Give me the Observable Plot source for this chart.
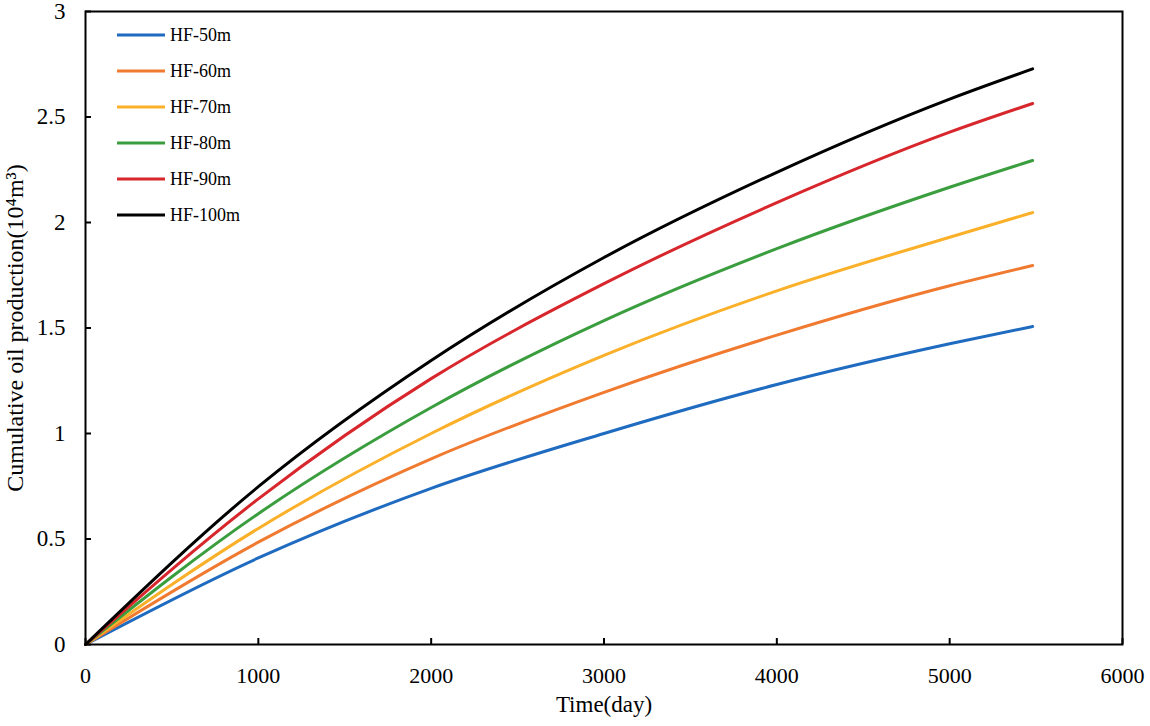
<!DOCTYPE html>
<html>
<head>
<meta charset="utf-8">
<script src="https://cdn.jsdelivr.net/npm/d3@7"></script>
<script src="https://cdn.jsdelivr.net/npm/@observablehq/plot@0.6"></script>
<style>
  html, body { margin: 0; padding: 0; background: #fff; }
  #chart svg { display: block; }
</style>
</head>
<body>
<div id="chart"></div>
<script>
const days = [0, 1000, 2000, 3000, 4000, 5000, 5480];
const hf50  = [0, 0.41, 0.74, 1.0, 1.232, 1.425, 1.507];
const hf60  = [0, 0.485, 0.88, 1.195, 1.466, 1.70, 1.796];
const hf70  = [0, 0.55, 1.0, 1.37, 1.676, 1.93, 2.047];
const hf80  = [0, 0.62, 1.123, 1.535, 1.876, 2.167, 2.294];
const hf90  = [0, 0.69, 1.26, 1.71, 2.094, 2.428, 2.564];
const hf100 = [0, 0.748, 1.346, 1.834, 2.238, 2.585, 2.728];

const seriesNames = ["HF-50m", "HF-60m", "HF-70m", "HF-80m", "HF-90m", "HF-100m"];
const seriesValues = [hf50, hf60, hf70, hf80, hf90, hf100];
const colors = ["#1f6bc0", "#f07a30", "#fbb02a", "#3a9e3e", "#d7262c", "#000000"];

const xTicks = [0, 1000, 2000, 3000, 4000, 5000, 6000];
const yTicks = [0, 0.5, 1, 1.5, 2, 2.5, 3];
const yTickLabels = ["0", "0.5", "1", "1.5", "2", "2.5", "3"];
const xTitle = "Time(day)";
const yTitle = "Cumulative oil production(10\u2074m\u00b3)";

const rows = [];
seriesNames.forEach((name, i) => {
  days.forEach((d, j) => rows.push({series: name, day: d, value: seriesValues[i][j]}));
});

const W = 1150, H = 726, mL = 85, mR = 28, mT = 11, mB = 82;
const tickPx = 6;
const tickLenY = tickPx * 3 / (H - mT - mB);      // in y data units
const tickLenX = tickPx * 6000 / (W - mL - mR);    // in x data units

const font = "'Liberation Serif', 'Times New Roman', serif";

const chart = Plot.plot({
  width: W,
  height: H,
  marginLeft: mL,
  marginRight: mR,
  marginTop: mT,
  marginBottom: mB,
  style: {fontFamily: font, background: "#fff", color: "#000"},
  x: {domain: [0, 6000]},
  y: {domain: [0, 3]},
  color: {domain: seriesNames, range: colors},
  marks: [
    Plot.axisX({ticks: xTicks, tickSize: 0, tickPadding: 23, tickFormat: d => String(d), label: null, fontSize: 22}),
    Plot.axisY({ticks: yTicks, tickSize: 0, tickPadding: 20, tickFormat: d => yTickLabels[yTicks.indexOf(d)], label: null, fontSize: 23}),
    Plot.ruleX(xTicks, {x: d => d, y1: 0, y2: tickLenY, stroke: "#000", strokeWidth: 2}),
    Plot.ruleY(yTicks, {y: d => d, x1: 0, x2: tickLenX, stroke: "#000", strokeWidth: 2}),
    Plot.line(rows, {x: "day", y: "value", z: "series", stroke: "series", strokeWidth: 3, curve: "monotone-x"}),
    Plot.frame({stroke: "#000", strokeWidth: 2}),
    Plot.text([xTitle], {text: d => d, frameAnchor: "bottom", dy: 67, fontSize: 23, fill: "#000"}),
    Plot.text([yTitle], {text: d => d, frameAnchor: "left", textAnchor: "middle", dx: -70, rotate: -90, fontSize: 24, fill: "#000"})
  ]
});

// legend inside the plot area (top-left)
const svg = d3.select(chart);
const lg = svg.append("g").attr("font-family", font).attr("font-size", 18).attr("text-anchor", "start");
seriesNames.forEach((name, i) => {
  const y = 35 + 36 * i;
  lg.append("line").attr("x1", 117).attr("x2", 165).attr("y1", y).attr("y2", y)
    .attr("stroke", colors[i]).attr("stroke-width", 3);
  lg.append("text").attr("x", 170).attr("y", y).attr("dy", "0.35em").attr("fill", "#000").text(name);
});

document.getElementById("chart").appendChild(chart);
</script>
</body>
</html>
